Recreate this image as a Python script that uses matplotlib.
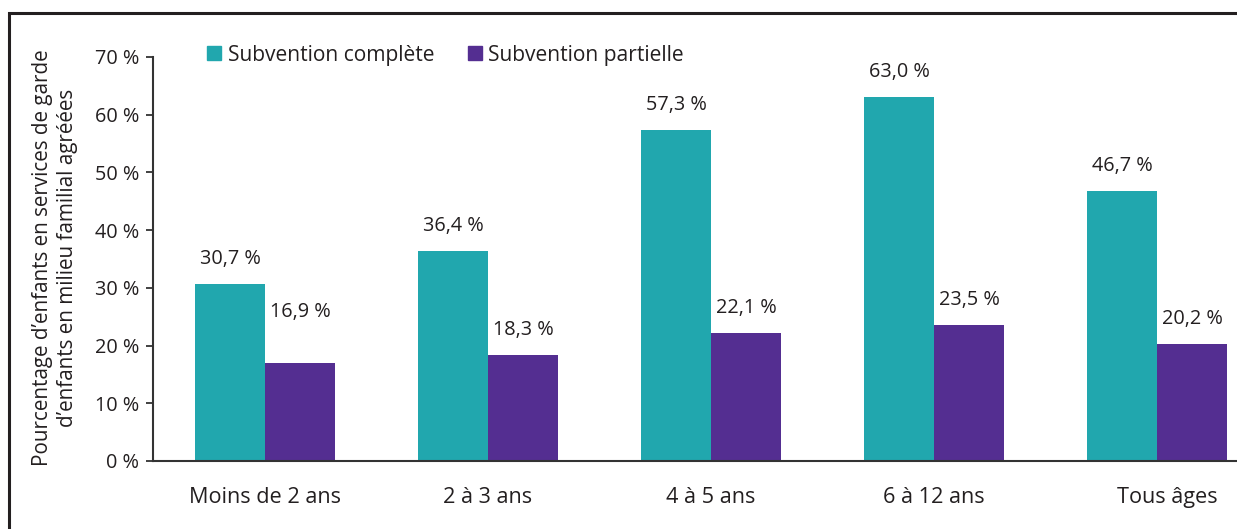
import matplotlib
matplotlib.use("Agg")
import matplotlib.pyplot as plt
from matplotlib.patches import Rectangle, Patch
import matplotlib.transforms as mtransforms
import numpy as np

plt.rcParams['font.family'] = ['Open Sans', 'DejaVu Sans']

categories = ["Moins de 2 ans", "2 à 3 ans", "4 à 5 ans", "6 à 12 ans", "Tous âges"]
complete = [30.7, 36.4, 57.3, 63.0, 46.7]
partielle = [16.9, 18.3, 22.1, 23.5, 20.2]
series_names = ["Subvention complète", "Subvention partielle"]
yticks = [0, 10, 20, 30, 40, 50, 60, 70]

teal = "#21A7AE"
purple = "#542E91"
txt = "#231F20"

fig = plt.figure(figsize=(12.37, 5.29), dpi=100)
ax = fig.add_axes([153/1237, 1-461/529, 1-153/1237, (461-57)/529])

x = np.arange(len(categories))
w = 70/223
ax.bar(x - w/2, complete, width=w, color=teal, label=series_names[0])
ax.bar(x + w/2, partielle, width=w, color=purple, label=series_names[1])

for i, v in enumerate(complete):
    ax.annotate(f"{v:.1f} %".replace(".", ","), (x[i]-w/2, v), xytext=(0, 11),
                textcoords="offset points", ha="center", va="bottom", fontsize=14.3, color=txt)
for i, v in enumerate(partielle):
    off = 30 if i == 0 else 11
    ax.annotate(f"{v:.1f} %".replace(".", ","), (x[i]+w/2, v), xytext=(0, off),
                textcoords="offset points", ha="center", va="bottom", fontsize=14.3, color=txt)

ax.set_xlim(-112/223, 4 + 80/223)
ax.set_ylim(0, 70)
ax.set_yticks(yticks)
ax.set_yticklabels([f"{t} %" for t in yticks], fontsize=14.3, color=txt)
ax.set_xticks(x)
ax.set_xticklabels(categories, fontsize=15.6, color=txt)
ax.tick_params(axis='x', length=0, pad=19)
ax.tick_params(axis='y', length=5, width=1.3, color="#333333", pad=5)
for s in ["top", "right"]:
    ax.spines[s].set_visible(False)
for s in ["left", "bottom"]:
    ax.spines[s].set_color("#333333")
    ax.spines[s].set_linewidth(1.5)

lbl = ax.get_xticklabels()[-1]
lbl.set_transform(lbl.get_transform() + mtransforms.ScaledTranslation(10/100, 0, fig.dpi_scale_trans))

fig.text(55/1237, 1-258/529,
         "Pourcentage d\u2019enfants en services de garde\nd\u2019enfants en milieu familial agréées",
         rotation=90, ha="center", va="center", fontsize=14.9, color=txt, linespacing=1.3)

handles = [Patch(color=teal), Patch(color=purple)]
leg = fig.legend(handles, series_names, loc="center left", bbox_to_anchor=(207/1237, 1-55/529),
                 ncol=2, frameon=False, fontsize=15.1, handlelength=0.68, handleheight=0.68,
                 handletextpad=0.3, columnspacing=1.6, borderaxespad=0, borderpad=0)
for t in leg.get_texts():
    t.set_color(txt)

fig.patches.append(Rectangle((9/1237, -0.2), 2, 0.2 + 1-13/529, transform=fig.transFigure,
                             fill=False, edgecolor="#231F20", linewidth=2.2))

fig.savefig("out.png", dpi=100)
